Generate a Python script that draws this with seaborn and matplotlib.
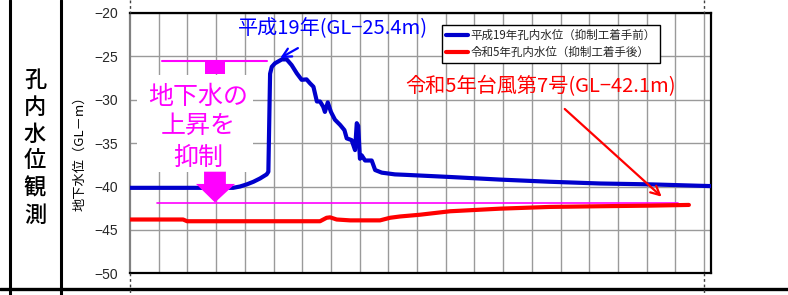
import matplotlib
matplotlib.use("Agg")
import matplotlib.pyplot as plt
import seaborn as sns
import pandas as pd
from matplotlib.lines import Line2D
from matplotlib.patches import Rectangle, Polygon

# ---------------- data ----------------
label_h19 = "平成19年孔内水位（抑制工着手前）"
label_r5 = "令和5年孔内水位（抑制工着手後）"

x_h19 = [0, 3.59, 3.83, 4.07, 4.30, 4.53, 4.76, 4.82, 4.88, 4.94,
         5.05, 5.29, 5.46, 5.63, 5.81, 5.98, 6.15, 6.27, 6.39, 6.51,
         6.62, 6.73, 6.79, 6.89, 7.00, 7.14, 7.32, 7.47, 7.55, 7.72,
         7.84, 7.90, 7.95, 8.01, 8.07, 8.19, 8.42, 8.54, 8.77, 9.23,
         9.58, 11.15, 12.89, 14.63, 16.38, 18.12, 20.24]
y_h19 = [-40.15, -40.15, -40.0, -39.75, -39.45, -39.07, -38.6, -38.3, -27.0, -26.2,
         -25.8, -25.35, -25.35, -26.0, -26.95, -27.7, -27.65, -28.1, -28.5, -30.2,
         -30.2, -30.8, -31.4, -30.3, -31.4, -32.3, -32.9, -33.5, -34.45, -34.65,
         -35.8, -32.7, -33.0, -36.8, -36.4, -37.0, -37.0, -38.1, -38.4, -38.6,
         -38.65, -38.9, -39.2, -39.45, -39.65, -39.75, -39.95]

x_r5 = [0, 1.85, 1.99, 6.62, 6.85, 6.97, 7.20, 7.67, 8.71, 9.06,
        9.41, 10.10, 11.15, 12.89, 14.63, 16.38, 18.12, 19.47]
y_r5 = [-43.8, -43.8, -44.0, -44.0, -43.6, -43.55, -43.8, -43.9, -43.9, -43.6,
        -43.45, -43.25, -42.85, -42.55, -42.35, -42.27, -42.2, -42.12]

y_ticks = [-50, -45, -40, -35, -30, -25, -20]
x_grid = list(range(1, 21))
x_max = 20.24
target_level = -41.95

side_title = "孔内水位観測"
y_label = "地下水位（GL－m）"
peak_text = "平成19年(GL−25.4m)"
typhoon_text = "令和5年台風第7号(GL−42.1m)"
note_lines = ["地下水の", "上昇を", "抑制"]

# ---------------- style ----------------
sns.set_style("white")
plt.rcParams['font.family'] = ['Noto Sans CJK JP', 'DejaVu Sans']

W, H = 788, 295
fig = plt.figure(figsize=(W / 100, H / 100), dpi=100)

def fx(px):
    return px / W

def fy(py):
    return 1 - py / H

ax = fig.add_axes([fx(130), fy(273.3), (711 - 130) / W, (273.3 - 13) / H])

df_h19 = pd.DataFrame({"x": x_h19, "y": y_h19})
df_r5 = pd.DataFrame({"x": x_r5, "y": y_r5})

BLUE = "#0000CC"
RED = "#FF0000"
MAG = "#FF00FF"

sns.lineplot(data=df_h19, x="x", y="y", ax=ax, color=BLUE, lw=3.0,
             label=label_h19, estimator=None, sort=False, zorder=5)
sns.lineplot(data=df_r5, x="x", y="y", ax=ax, color=RED, lw=3.0,
             label=label_r5, estimator=None, sort=False, zorder=5)

ax.set_xlim(0, x_max)
ax.set_ylim(-50, -20)
ax.set_yticks(y_ticks)
ax.set_xticks(x_grid)
ax.set_xticklabels([])
ax.set_xlabel("")
ax.set_ylabel("")
ax.tick_params(axis='x', length=0)
ax.tick_params(axis='y', length=4, width=1, color="#808080", direction='out',
               pad=4.5, labelsize=10)
for lab in ax.get_yticklabels():
    lab.set_fontfamily(['Liberation Sans', 'DejaVu Sans'])
ax.grid(True, color="#9A9A9A", lw=1.0)
ax.set_axisbelow(True)

for side in ['top', 'right', 'bottom']:
    ax.spines[side].set_color('black')
    ax.spines[side].set_linewidth(1.6)
ax.spines['left'].set_color('#808080')
ax.spines['left'].set_linewidth(1.6)

# target level line
ax.plot([0.93, 19.08], [target_level, target_level], color=MAG, lw=1.2, zorder=4)

# white box behind note text
ax.add_patch(Rectangle((0.24, -38.3), 4.05, 11.2, facecolor='white',
                       edgecolor='none', zorder=3))
# ground symbol
ax.plot([1.10, 4.76], [-25.53, -25.53], color=MAG, lw=1.5, zorder=4)
ax.add_patch(Rectangle((2.61, -27.07), 0.70, 1.54, facecolor=MAG,
                       edgecolor='none', zorder=4))
# block arrow down
ax.add_patch(Polygon([(2.58, -38.29), (3.34, -38.29), (3.34, -39.7),
                      (3.66, -39.7), (2.96, -41.84), (2.30, -39.7),
                      (2.58, -39.7)], closed=True, facecolor=MAG,
                     edgecolor='none', zorder=6))
for i, (line, ycen) in enumerate(zip(note_lines, [96.7, 125.5, 158.3])):
    fig.text(fx(198), fy(ycen), line, color=MAG, fontsize=18,
             ha='center', va='center', zorder=7)

# annotations
ax.annotate(peak_text, xy=(5.23, -25.2), xytext=(7.08, -21.75),
            color="#0000FF", fontsize=14.5, ha='center', va='center',
            arrowprops=dict(arrowstyle='->', color="#0000FF", lw=1.6,
                            shrinkA=9, shrinkB=0, mutation_scale=16), zorder=8)
ax.annotate(typhoon_text, xy=(18.52, -41.17), xytext=(14.29, -28.5),
            color=RED, fontsize=14.5, ha='center', va='center',
            arrowprops=dict(arrowstyle='->', color=RED, lw=1.6,
                            shrinkA=9, shrinkB=0, mutation_scale=16), zorder=8)

# legend
leg = ax.legend(loc='upper left', bbox_to_anchor=((442 - 130) / 581, (273.3 - 25) / 260.3),
                borderaxespad=0, fontsize=8.3, frameon=True, fancybox=False,
                edgecolor='black', framealpha=1, handlelength=1.9,
                handletextpad=0.25, borderpad=0.35, labelspacing=0.35)
leg.get_frame().set_linewidth(1.0)
leg.set_zorder(9)

# y label and side title
fig.text(fx(80), fy(150), y_label, rotation=90, ha='center', va='center',
         fontsize=9.5, color='black')
for i, ch in enumerate(side_title):
    fig.text(fx(35), fy(80 + 27 * i), ch, ha='center', va='center',
             fontsize=16, fontweight='medium', color='black')

# table frame lines
for xv in (10, 61):
    fig.add_artist(Line2D([fx(xv), fx(xv)], [0, 1], color='black', lw=2.2,
                          transform=fig.transFigure))
fig.add_artist(Line2D([0, 1], [fy(289), fy(289)], color='black', lw=2.4,
                      transform=fig.transFigure))
# dotted column lines outside the plot
for xv in (130, 704):
    for (y0, y1) in ((0, 13), (273.3, 295)):
        fig.add_artist(Line2D([fx(xv), fx(xv)], [fy(y0), fy(y1)], color='#404040',
                              lw=1.0, ls=(0, (2, 2)), transform=fig.transFigure))

fig.savefig("out.png", dpi=100, facecolor='white')
